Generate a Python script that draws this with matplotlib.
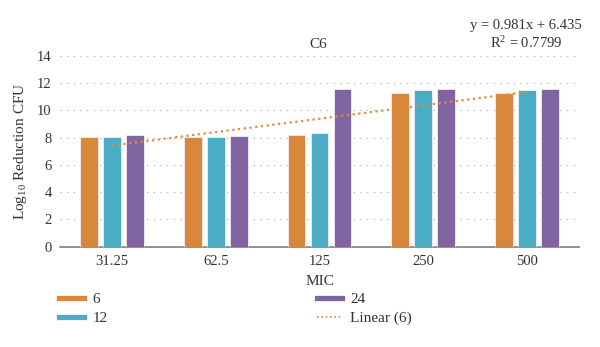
import matplotlib
matplotlib.use("Agg")
import matplotlib.pyplot as plt
from matplotlib.lines import Line2D
import numpy as np

plt.rcParams["font.family"] = "Liberation Serif"
plt.rcParams["mathtext.fontset"] = "custom"
plt.rcParams["mathtext.rm"] = "Liberation Serif"
plt.rcParams["mathtext.it"] = "Liberation Serif:italic"

# MIC levels and log reduction per exposure time
mic = ["31.25", "62.5", "125", "250", "500"]
series_names = ["6", "12", "24"]
red_6 = [8.02, 8.01, 8.21, 11.28, 11.28]
red_12 = [8.02, 8.07, 8.34, 11.49, 11.49]
red_24 = [8.21, 8.14, 11.59, 11.59, 11.59]
colors = ["#D9883B", "#4BACC6", "#8064A2"]

# linear trend fitted to the 6 h series
slope = 0.981
intercept = 6.435
r_squared = 0.7799

fig = plt.figure(figsize=(6.0, 3.47), dpi=100)
ax = fig.add_axes([0.1, 0.289, 0.865, 0.5506])

x = np.arange(len(mic))
width = 0.173
step = 0.2216
for k, vals in enumerate([red_6, red_12, red_24]):
    ax.bar(x + (k - 1) * step, vals, width, color=colors[k],
           edgecolor="#F4EEF6", linewidth=0.6, zorder=3)

trend = slope * (x + 1) + intercept
ax.plot(x, trend, color="#E8893A", linestyle=(0, (1, 1.6)), linewidth=1.6,
        zorder=4)

ax.set_xlim(-0.5, len(mic) - 0.5)
ax.set_ylim(0, 14)
ax.set_yticks(range(0, 15, 2))
ax.set_xticks(x)
ax.set_xticklabels(mic)
ax.tick_params(length=0, labelsize=10.5, colors="#333333", pad=6)
ax.yaxis.grid(True, color="#A6A6A6", linestyle=(0, (1, 5)), linewidth=0.8)
ax.set_axisbelow(True)
for s in ["top", "right", "left"]:
    ax.spines[s].set_visible(False)
ax.spines["bottom"].set_color("#7F7F7F")
ax.spines["bottom"].set_linewidth(1.2)

ax.set_xlabel("MIC", fontsize=11, color="#333333", labelpad=5)
ax.set_ylabel("Log$_{10}$ Reduction CFU", fontsize=11, color="#333333",
              labelpad=6)
fig.text(0.53, 0.873, "C6", ha="center", va="center", fontsize=11,
         color="#333333")
fig.text(0.877, 0.927, "y = 0.981x + 6.435", ha="center", va="center",
         fontsize=10.5, color="#333333")
fig.text(0.877, 0.877, "R$^2$ = 0.7799", ha="center", va="center",
         fontsize=10.5, color="#333333")

h6 = Line2D([], [], color=colors[0], lw=3.8)
h12 = Line2D([], [], color=colors[1], lw=3.8)
h24 = Line2D([], [], color=colors[2], lw=3.8)
hlin = Line2D([], [], color="#E8893A", linestyle=(0, (1, 1.6)), lw=1.2)

leg_kw = dict(frameon=False, fontsize=11, handlelength=1.65,
              handletextpad=0.55, labelspacing=0.35, borderpad=0,
              borderaxespad=0)
leg1 = fig.legend([h6, h12], series_names[:2], loc="upper left",
                  bbox_to_anchor=(0.098, 0.155 + 0.0), **leg_kw)
leg1.set_bbox_to_anchor((0.098, 0.158), transform=fig.transFigure)
leg2 = fig.legend([h24, hlin], [series_names[2], "Linear (6)"],
                  loc="upper left", bbox_to_anchor=(0.528, 0.158), **leg_kw)
for leg in (leg1, leg2):
    for t in leg.get_texts():
        t.set_color("#333333")

fig.savefig("out.png", dpi=100)
